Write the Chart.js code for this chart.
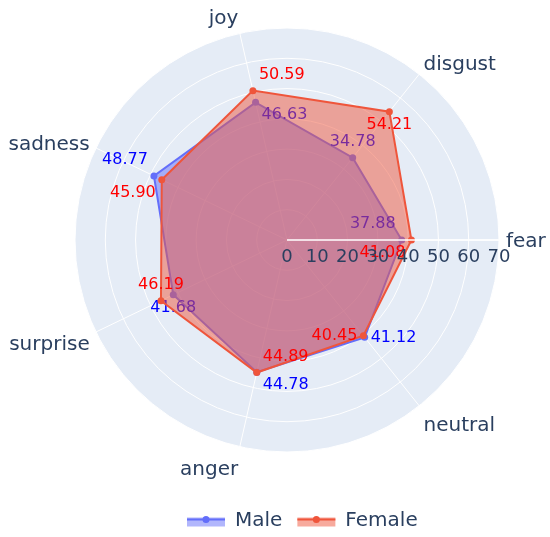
<!DOCTYPE html>
<html>
<head>
<meta charset="utf-8">
<script src="https://cdn.jsdelivr.net/npm/chart.js@4.4.0/dist/chart.umd.min.js"></script>
<style>
  body { margin: 0; background: #fff; }
  #wrap { width: 550px; height: 537px; }
</style>
</head>
<body>
<div id="wrap"><canvas id="myChart" width="550" height="537"></canvas></div>
<script>
// categories go clockwise from the right (fear), as chart.js walks the circle
const categories = ["fear", "neutral", "anger", "surprise", "sadness", "joy", "disgust"];
const maleValues = [37.88, 41.12, 44.78, 41.68, 48.77, 46.63, 34.78];
const femaleValues = [41.08, 40.45, 44.89, 46.19, 45.90, 50.59, 54.21];
const radialTicks = [0, 10, 20, 30, 40, 50, 60, 70];
const seriesNames = ["Male", "Female"];

// where each value label sits next to its marker
const maleTextPos = ["top left", "middle right", "bottom right", "bottom center", "top left", "bottom right", "top center"];
const femaleTextPos = ["bottom left", "middle left", "top right", "top center", "bottom left", "top right", "bottom center"];

const FONT = "'DejaVu Sans', Verdana, sans-serif";
const INK = "#2a3f5f";

// light blue disc behind the grid
const polarBg = {
  id: "polarBg",
  beforeDraw(chart) {
    const r = chart.scales.r;
    const ctx = chart.ctx;
    ctx.save();
    ctx.fillStyle = "#E5ECF6";
    ctx.beginPath();
    ctx.arc(r.xCenter, r.yCenter, r.drawingArea, 0, Math.PI * 2);
    ctx.fill();
    ctx.restore();
  }
};

// numbers next to points, drawn with their own trace so later fills cover them
const valueLabels = {
  id: "valueLabels",
  afterDatasetDraw(chart, args) {
    const ds = chart.data.datasets[args.index];
    const ctx = chart.ctx;
    ctx.save();
    ctx.font = "16px " + FONT;
    ctx.fillStyle = ds.textColor;
    ctx.textBaseline = "middle";
    args.meta.data.forEach((pt, i) => {
      const [v, h] = ds.textPos[i].split(" ");
      let x = pt.x, y = pt.y;
      if (h === "left") { ctx.textAlign = "right"; x -= 6; }
      else if (h === "right") { ctx.textAlign = "left"; x += 6; }
      else ctx.textAlign = "center";
      if (v === "top") y -= 16;
      else if (v === "bottom") y += 13;
      ctx.fillText(ds.data[i].toFixed(2), x, y);
    });
    ctx.restore();
  }
};

// radial axis line + tick numbers along the fear axis, category names round the outside
const polarText = {
  id: "polarText",
  afterDatasetsDraw(chart) {
    const r = chart.scales.r;
    const ctx = chart.ctx;
    ctx.save();

    ctx.strokeStyle = "#ffffff";
    ctx.lineWidth = 1.5;
    ctx.beginPath();
    ctx.moveTo(r.xCenter, r.yCenter);
    ctx.lineTo(r.xCenter + r.getDistanceFromCenterForValue(radialTicks[radialTicks.length - 1]), r.yCenter);
    ctx.stroke();

    ctx.fillStyle = INK;
    ctx.font = "18px " + FONT;
    ctx.textAlign = "center";
    ctx.textBaseline = "middle";
    radialTicks.forEach(t => {
      const d = r.getDistanceFromCenterForValue(t);
      ctx.fillText(String(t), r.xCenter + d, r.yCenter + 17);
    });

    const fs = 20;
    ctx.font = fs + "px " + FONT;
    ctx.textBaseline = "alphabetic";
    const pad = r.drawingArea + 7;
    categories.forEach((c, i) => {
      const a = r.getIndexAngle(i) - Math.PI / 2;
      const cos = Math.cos(a), sin = -Math.sin(a);
      const ff = sin > 0 ? 0.2 : 1;
      const x = r.xCenter + cos * pad;
      const y = r.yCenter - sin * (pad + fs * ff) + Math.abs(cos) * fs * 0.35;
      ctx.textAlign = Math.abs(cos) < 0.1 ? "center" : (cos > 0 ? "left" : "right");
      ctx.fillText(c, x, y);
    });
    ctx.restore();
  }
};

const legendRow = {
  id: "legendRow",
  afterDraw(chart) {
    const ctx = chart.ctx;
    ctx.save();
    ctx.font = "20px " + FONT;
    ctx.textBaseline = "middle";
    ctx.textAlign = "left";
    let x = 187;
    const y = 519.5;
    chart.data.datasets.forEach(ds => {
      ctx.fillStyle = ds.backgroundColor;
      ctx.fillRect(x, y - 2, 38, 9);
      ctx.strokeStyle = ds.borderColor;
      ctx.lineWidth = 2;
      ctx.beginPath();
      ctx.moveTo(x, y);
      ctx.lineTo(x + 38, y);
      ctx.stroke();
      ctx.fillStyle = ds.borderColor;
      ctx.beginPath();
      ctx.arc(x + 19, y, 3.5, 0, Math.PI * 2);
      ctx.fill();
      ctx.fillStyle = INK;
      ctx.fillText(ds.label, x + 48, y + 1);
      x += 48 + ctx.measureText(ds.label).width + 15;
    });
    ctx.restore();
  }
};

new Chart("myChart", {
  type: "radar",
  data: {
    labels: categories,
    datasets: [{
      label: seriesNames[0],
      data: maleValues,
      order: 2,
      borderColor: "#636EFA",
      backgroundColor: "rgba(99,110,250,0.5)",
      pointBackgroundColor: "#636EFA",
      textColor: "#0000FF",
      textPos: maleTextPos,
      fill: true
    }, {
      label: seriesNames[1],
      data: femaleValues,
      order: 1,
      borderColor: "#EF553B",
      backgroundColor: "rgba(239,85,59,0.5)",
      pointBackgroundColor: "#EF553B",
      textColor: "#FF0000",
      textPos: femaleTextPos,
      fill: true
    }]
  },
  options: {
    responsive: false,
    animation: false,
    layout: { padding: { left: 75, right: 51, top: 28, bottom: 85 } },
    elements: {
      line: { borderWidth: 2, tension: 0 },
      point: { radius: 3.5, borderWidth: 0, hoverRadius: 3.5 }
    },
    plugins: {
      legend: { display: false },
      tooltip: { enabled: false }
    },
    scales: {
      r: {
        min: 0,
        max: 70,
        startAngle: 90,
        ticks: { display: false, stepSize: 10 },
        pointLabels: { display: false },
        grid: { color: "#ffffff", circular: true, lineWidth: 1 },
        angleLines: { color: "#ffffff", lineWidth: 1 }
      }
    }
  },
  plugins: [polarBg, valueLabels, polarText, legendRow]
});
</script>
</body>
</html>
